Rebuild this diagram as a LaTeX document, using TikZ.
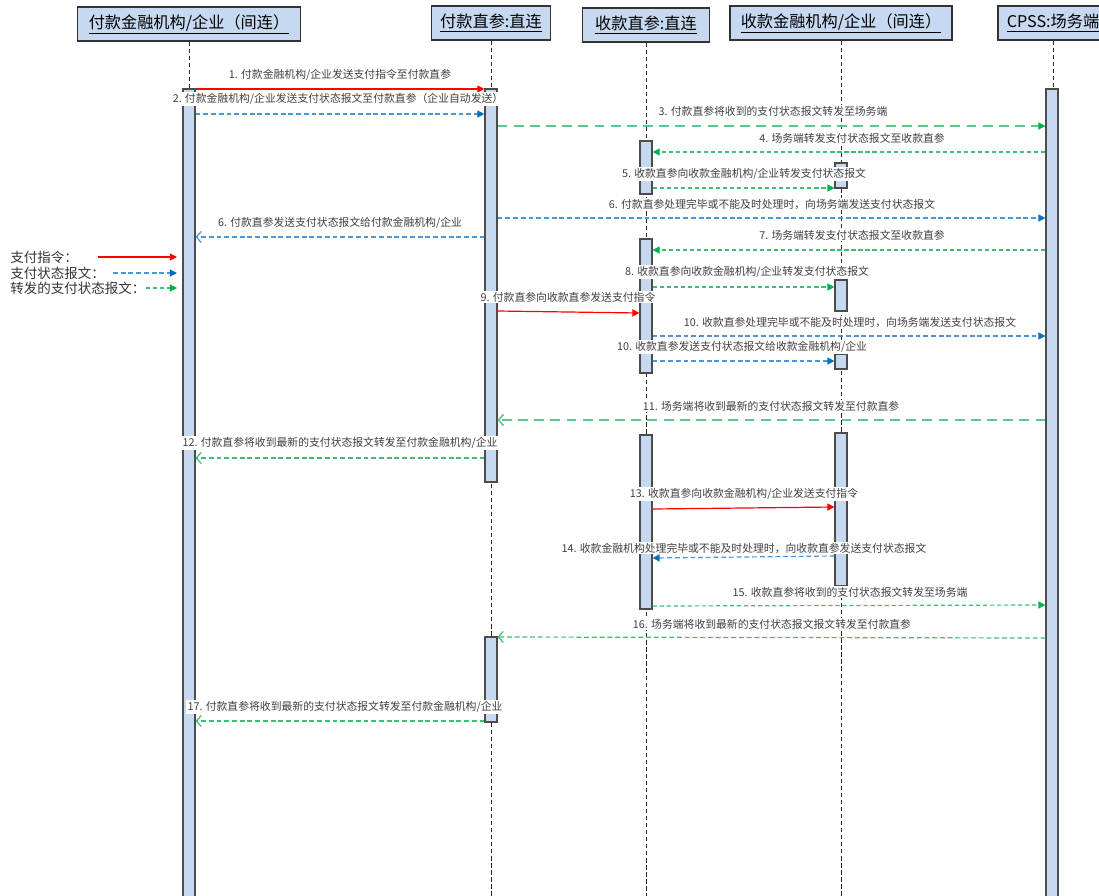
\documentclass[tikz,border=0pt]{standalone}
\usepackage{fontspec}
\setmainfont{Noto Sans CJK SC}
\usepackage{tikz}
\usetikzlibrary{positioning, arrows.meta, fit}
\usepackage{xcolor}
\definecolor{lanefill}{RGB}{198, 217, 241}
\definecolor{laneedge}{RGB}{50, 50, 50}
\definecolor{orderred}{RGB}{255, 0, 0}
\definecolor{statusblue}{RGB}{75, 150, 215}
\definecolor{statustip}{RGB}{0, 112, 192}
\definecolor{fwdgreen}{RGB}{60, 190, 115}
\definecolor{fwdtip}{RGB}{0, 176, 80}
\definecolor{labelgray}{RGB}{64, 64, 64}
\newcommand\pxu{0.025cm}

\tikzset{
  lanebox/.style={draw=laneedge, line width=1pt, fill=lanefill, minimum height=34*\pxu, inner sep=0pt, font=\fontsize{11.5}{13}\selectfont},
  actbar/.style={draw=black!70, line width=0.8pt, fill=lanefill, inner sep=0pt},
  lifeline/.style={black!85, line width=0.7pt, dash pattern=on 3pt off 2pt},
  msglabel/.style={fill=white, inner sep=0.8pt, text=labelgray, font=\fontsize{7.7}{9}\selectfont},
  keytext/.style={anchor=west, inner sep=0pt, text=black!80, font=\fontsize{9.6}{11}\selectfont},
  fulltip/.style={-{Triangle[length=5pt, width=5pt, color=#1]}},
  opentip/.style={-{Straight Barb[length=3.5pt, width=8pt]}},
  orderarrow/.style={orderred, line width=0.85pt, fulltip=orderred},
  statusarrow/.style={statusblue, line width=0.85pt, dash pattern=on 3.5pt off 2pt, fulltip=statustip},
  statusback/.style={statusblue, line width=0.85pt, dash pattern=on 3.5pt off 2pt, opentip},
  fwdarrow/.style={fwdgreen, line width=0.85pt, dash pattern=on 3pt off 2pt, fulltip=fwdtip},
  fwdback/.style={fwdgreen, line width=0.85pt, dash pattern=on 3.5pt off 2pt, opentip},
  fwdlong/.style={fwdgreen!85, line width=1.1pt, dash pattern=on 7pt off 4.5pt}
}

\begin{document}
\begin{tikzpicture}[x=0.025cm, y=-0.025cm]
    \useasboundingbox (0,0) rectangle (1099,895);
    \clip (0,0) rectangle (1099,895);
    % Lanes
    \node[lanebox, minimum width=223*\pxu] (pay) at (189,24) {\underline{付款金融机构/企业（间连）}};
    \node[lanebox, minimum width=119*\pxu] (payd) at (491,23) {\underline{付款直参:直连}};
    \node[lanebox, minimum width=127*\pxu] (recd) at (646,25) {\underline{收款直参:直连}};
    \node[lanebox, minimum width=222*\pxu] (rec) at (841,23) {\underline{收款金融机构/企业（间连）}};
    \node[lanebox, minimum width=110*\pxu] (cpss) at (1053,23) {\underline{CPSS:场务端}};
    % Lifelines
    \foreach \n in {pay, payd, recd, rec, cpss}{
      \draw[lifeline] (\n.south) -- (\n.south |- 0,900);
    }
    % Activations
    \node[actbar, fit={(183,89) (195,905)}] (a1) {};
    \node[actbar, fit={(485,89) (497,482)}] (a2) {};
    \node[actbar, fit={(485,637) (497,722)}] (a2b) {};
    \node[actbar, fit={(640,141) (652,194)}] (a3) {};
    \node[actbar, fit={(640,239) (652,373)}] (a3b) {};
    \node[actbar, fit={(640,435) (652,609)}] (a3c) {};
    \node[actbar, fit={(835,163) (847,188)}] (a4) {};
    \node[actbar, fit={(835,280) (847,311)}] (a4b) {};
    \node[actbar, fit={(835,354) (847,369)}] (a4c) {};
    \node[actbar, fit={(835,433) (847,586)}] (a4d) {};
    \node[actbar, fit={(1046,89) (1058,905)}] (a5) {};
    % Messages
    \draw[orderarrow] (a1.east |- 0,89) -- (a2.west |- 0,89);
    \node[msglabel] (lbl1) at (340,75) {1. 付款金融机构/企业发送支付指令至付款直参};
    \draw[statusarrow] (a1.east |- 0,114) -- (a2.west |- 0,114);
    \node[msglabel] (lbl2) at (338,99) {2. 付款金融机构/企业发送支付状态报文至付款直参（企业自动发送）};
    \draw[fwdlong, -{Triangle[length=5pt, width=5pt, color=fwdtip]}] (a2.east |- 0,126) -- (a5.west |- 0,126);
    \node[msglabel] (lbl3) at (773,111) {3. 付款直参将收到的支付状态报文转发至场务端};
    \draw[fwdarrow] (a5.west |- 0,152) -- (a3.east |- 0,152);
    \node[msglabel] (lbl4) at (852,138) {4. 场务端转发支付状态报文至收款直参};
    \draw[fwdarrow] (a3.east |- 0,188) -- (a4.west |- 0,188);
    \node[msglabel] (lbl5) at (744,174) {5. 收款直参向收款金融机构/企业转发支付状态报文};
    \draw[statusarrow] (a2.east |- 0,218) -- (a5.west |- 0,218);
    \node[msglabel] (lbl6a) at (772,204) {6. 付款直参处理完毕或不能及时处理时，向场务端发送支付状态报文};
    \draw[statusback] (a2.west |- 0,237) -- (a1.east |- 0,237);
    \node[msglabel] (lbl6b) at (340,223) {6. 付款直参发送支付状态报文给付款金融机构/企业};
    \draw[fwdarrow] (a5.west |- 0,250) -- (a3b.east |- 0,250);
    \node[msglabel] (lbl7) at (852,235) {7. 场务端转发支付状态报文至收款直参};
    \draw[fwdarrow] (a3b.east |- 0,287) -- (a4b.west |- 0,287);
    \node[msglabel] (lbl8) at (747,272) {8. 收款直参向收款金融机构/企业转发支付状态报文};
    \draw[orderarrow] (a2.east |- 0,311) -- (a3b.west |- 0,313);
    \node[msglabel] (lbl9) at (568,297) {9. 付款直参向收款直参发送支付指令};
    \draw[statusarrow] (a3b.east |- 0,336) -- (a5.west |- 0,336);
    \node[msglabel] (lbl10a) at (850,322) {10. 收款直参处理完毕或不能及时处理时，向场务端发送支付状态报文};
    \draw[statusarrow] (a3b.east |- 0,361) -- (a4c.west |- 0,361);
    \node[msglabel] (lbl10b) at (742,347) {10. 收款直参发送支付状态报文给收款金融机构/企业};
    \draw[fwdlong, opentip] (a5.west |- 0,420) -- (a2.east |- 0,420);
    \node[msglabel] (lbl11) at (771,406) {11. 场务端将收到最新的支付状态报文转发至付款直参};
    \draw[fwdback] (a2.west |- 0,458) -- (a1.east |- 0,458);
    \node[msglabel] (lbl12) at (340,443) {12. 付款直参将收到最新的支付状态报文转发至付款金融机构/企业};
    \draw[orderarrow] (a3c.east |- 0,509) -- (a4d.west |- 0,507);
    \node[msglabel] (lbl13) at (744,494) {13. 收款直参向收款金融机构/企业发送支付指令};
    \draw[statusarrow] (a4d.west |- 0,556) -- (a3c.east |- 0,558);
    \node[msglabel] (lbl14) at (744,548) {14. 收款金融机构处理完毕或不能及时处理时，向收款直参发送支付状态报文};
    \draw[fwdarrow] (a3c.east |- 0,606) -- (a5.west |- 0,605);
    \node[msglabel] (lbl15) at (850,592) {15. 收款直参将收到的支付状态报文转发至场务端};
    \draw[fwdback] (a5.west |- 0,638) -- (a2b.east |- 0,637);
    \node[msglabel] (lbl16) at (772,624) {16. 场务端将收到最新的支付状态报文报文转发至付款直参};
    \draw[fwdback] (a2b.west |- 0,721) -- (a1.east |- 0,721);
    \node[msglabel] (lbl17) at (345,707) {17. 付款直参将收到最新的支付状态报文转发至付款金融机构/企业};
    % Legend
    \node[keytext] (key1) at (10,257) {支付指令：};
    \node[keytext] (key2) at (10,273) {支付状态报文：};
    \node[keytext] (key3) at (10,288) {转发的支付状态报文：};
    \coordinate (k1s) at (98,257);
    \coordinate (k1e) at (177,257);
    \coordinate (k2s) at (113,273);
    \coordinate (k2e) at (177,273);
    \coordinate (k3e) at (177,288);
    \draw[orderarrow] (k1s) -- (k1e);
    \draw[statusarrow] (k2s) -- (k2e);
    \draw[fwdarrow] (key3.east) -- (k3e);
\end{tikzpicture}
\end{document}
